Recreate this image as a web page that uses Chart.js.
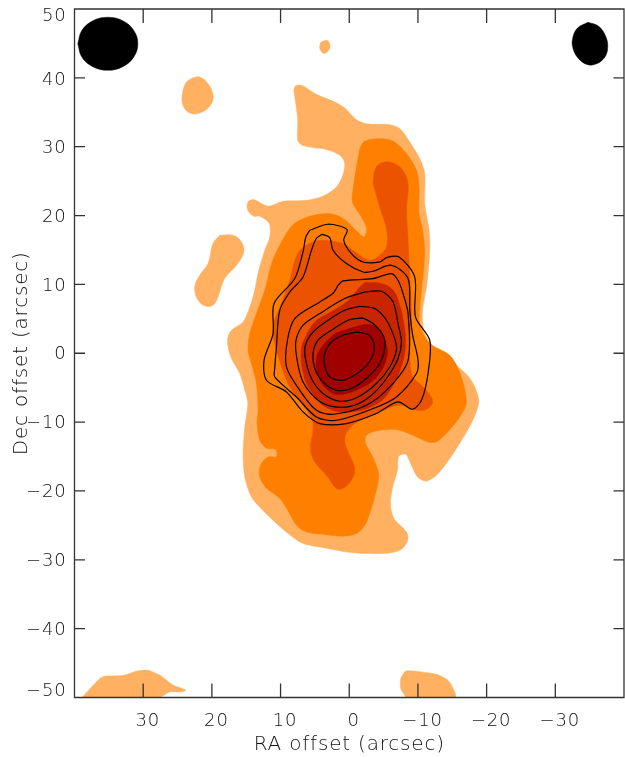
<!DOCTYPE html>
<html>
<head>
<meta charset="utf-8">
<style>html,body{margin:0;padding:0;background:#fff}canvas{display:block}</style>
<script src="https://cdn.jsdelivr.net/npm/chart.js@4"></script>
</head>
<body>
<canvas id="c" width="625" height="757"></canvas>
<script>
// All shapes are [RA offset, Dec offset] in arcsec.
const level1 = [[8.08,38.19],[7.79,38.87],[6.81,38.87],[4.78,37.6],[2.11,36.49],[0.66,35.62],[-1.05,33.93],[-2.5,33.35],[-5.9,33.2],[-7.35,32.63],[-8.81,30.68],[-10.26,28.27],[-10.99,26.09],[-10.99,21.78],[-11.62,17.86],[-11.72,14.96],[-11.32,10.17],[-10.65,5.81],[-10.99,2.9],[-12.69,0.44],[-14.63,-1.02],[-17.54,-3.63],[-18.85,-6.83],[-17.98,-9.73],[-16.08,-13.07],[-14.15,-15.98],[-12.69,-17.72],[-11.24,-18.55],[-9.97,-18.01],[-9.05,-16.27],[-8.22,-14.67],[-7.2,-14.96],[-7.02,-16.99],[-6.33,-19.42],[-6.0,-21.79],[-6.48,-23.97],[-8.33,-25.96],[-8.52,-27.16],[-7.6,-28.47],[-5.9,-29.01],[-2.5,-29.09],[0.41,-28.86],[3.32,-28.32],[6.77,-27.6],[8.95,-26.14],[10.84,-24.5],[12.59,-22.8],[14.24,-20.87],[15.21,-17.97],[15.46,-14.52],[15.21,-10.7],[14.77,-7.26],[15.21,-5.37],[15.94,-2.95],[17.25,-0.54],[17.73,1.89],[17.15,3.34],[15.46,4.55],[14.48,6.72],[13.76,9.15],[13.28,11.62],[12.3,14.96],[11.57,16.89],[11.67,18.88],[13.03,19.9],[13.9,19.9],[14.77,20.77],[14.77,21.97],[13.9,22.32],[11.82,21.35],[9.64,22.07],[6.23,22.21],[3.86,22.8],[1.86,24.15],[0.95,25.85],[0.66,27.59],[1.38,28.75],[3.32,29.58],[5.31,29.87],[6.81,30.2],[7.5,30.93],[7.5,33.83],[7.79,36.3],[8.08,38.19]];
const level1BlobA = [[22.74,40.03],[21.77,40.12],[20.56,39.16],[19.83,37.46],[20.21,36.01],[21.77,34.89],[23.22,34.89],[24.2,36.01],[24.29,37.71],[23.7,39.39],[22.74,40.03]];
const level1BlobB = [[4.15,45.16],[3.28,45.45],[2.84,44.87],[2.98,44.0],[3.71,43.56],[4.3,44.29],[4.15,45.16]];
const level1BlobC = [[18.86,17.13],[16.92,17.13],[15.7,16.16],[15.36,14.71],[16.42,12.78],[18.13,10.85],[19.58,7.22],[20.79,6.82],[22.01,7.7],[22.5,9.63],[21.77,11.33],[20.56,13.02],[19.83,15.93],[18.86,17.13]];
const level1BlobD = [[38.99,-50.1],[36.32,-47.23],[35.6,-46.9],[32.93,-46.8],[30.98,-46.17],[29.3,-46.03],[27.6,-46.75],[25.65,-48.2],[23.8,-48.93],[24.43,-49.18],[26.12,-49.18],[27.84,-50.1],[38.99,-50.1]];
const level1BlobE = [[-8.33,-50.1],[-7.5,-48.7],[-7.5,-47.25],[-8.23,-46.15],[-9.29,-46.15],[-12.7,-46.63],[-14.38,-47.5],[-15.36,-49.18],[-15.46,-50.1],[-8.33,-50.1]];
const level2 = [[-1.53,29.72],[-2.26,30.82],[-4.44,31.17],[-6.38,30.82],[-8.33,29.0],[-9.78,26.57],[-10.16,24.15],[-10.16,20.28],[-10.7,17.86],[-10.99,14.52],[-10.51,9.15],[-10.26,6.24],[-10.26,4.07],[-11.72,1.45],[-14.63,-0.29],[-16.08,-2.76],[-17.06,-7.07],[-16.08,-9.25],[-14.15,-11.62],[-12.69,-12.88],[-11.43,-12.88],[-9.24,-11.91],[-6.87,-11.08],[-3.96,-11.28],[-2.5,-11.91],[-2.36,-13.07],[-3.42,-15.06],[-4.29,-17.71],[-3.71,-20.86],[-2.98,-23.23],[-2.26,-24.97],[-1.05,-26.18],[0.95,-26.57],[3.86,-26.28],[6.23,-25.95],[7.69,-24.97],[8.95,-22.8],[10.12,-21.06],[12.05,-19.6],[13.03,-17.97],[12.93,-16.27],[11.82,-15.06],[10.6,-15.06],[10.7,-13.98],[12.05,-13.8],[13.03,-12.63],[13.42,-10.17],[13.28,-8.28],[13.51,-4.4],[14.24,-1.5],[14.73,0.44],[14.48,2.86],[13.51,5.76],[12.3,9.15],[11.14,13.5],[9.14,17.42],[7.93,18.88],[5.75,19.89],[2.84,20.28],[0.95,19.6],[-0.51,18.34],[-2.11,16.89],[-2.55,18.0],[-1.78,19.79],[-0.51,21.78],[-0.47,23.23],[-1.05,27.05],[-1.53,29.72]];
const level3 = [[-3.47,24.64],[-3.71,26.57],[-4.44,27.54],[-5.9,27.78],[-7.6,26.82],[-8.56,24.64],[-8.33,20.76],[-8.52,17.42],[-8.81,11.08],[-9.05,6.24],[-9.05,-2.9],[-11.24,-5.37],[-12.15,-7.07],[-11.24,-8.13],[-9.78,-8.28],[-7.35,-7.55],[-3.96,-8.71],[-1.53,-9.73],[0.17,-11.18],[0.66,-12.63],[0.17,-14.33],[-0.8,-16.7],[-0.32,-18.44],[0.95,-19.65],[1.86,-19.65],[3.32,-17.71],[5.02,-15.78],[5.65,-13.84],[5.27,-11.18],[5.46,-9.44],[8.66,-4.89],[9.68,-2.47],[10.85,1.45],[11.14,3.82],[9.87,7.26],[8.66,10.6],[7.5,14.52],[5.75,15.97],[3.86,16.41],[0.95,15.97],[-0.51,14.96],[-2.98,13.5],[-4.44,14.23],[-5.42,15.43],[-5.46,17.86],[-4.44,21.24],[-3.47,24.64]];
const level4 = [[-2.26,10.27],[-4.69,10.12],[-6.38,9.15],[-7.35,6.97],[-7.98,4.07],[-8.18,1.64],[-7.79,-1.26],[-6.14,-5.08],[-4.15,-7.26],[-0.32,-8.52],[3.09,-7.99],[5.5,-5.62],[6.73,-2.72],[6.96,0.68],[6.23,2.61],[5.02,4.54],[3.09,5.76],[0.66,7.22],[-0.55,8.42],[-1.53,9.63],[-2.26,10.27]];
const level5 = [[2.11,2.86],[-0.07,3.59],[-2.98,4.17],[-4.44,3.34],[-5.42,1.16],[-5.42,-0.77],[-4.19,-3.19],[-2.01,-4.89],[1.63,-6.0],[3.32,-5.13],[4.54,-3.19],[4.78,-0.77],[3.82,1.16],[2.11,2.86]];
const contour1 = [[-1.05,3.09],[-2.74,2.72],[-3.61,1.41],[-3.32,-0.54],[-1.78,-2.47],[0.9,-3.92],[2.84,-3.44],[3.57,-1.74],[3.57,-0.04],[2.59,1.64],[0.9,2.61],[-1.05,3.09]];
const contour2 = [[-2.01,5.13],[-3.47,4.31],[-4.92,2.61],[-5.17,0.91],[-4.44,-1.5],[-2.74,-3.44],[-0.32,-5.13],[1.86,-5.37],[3.82,-4.17],[5.02,-2.22],[5.27,-0.04],[4.54,1.89],[2.59,3.34],[0.17,4.79],[-2.01,5.13]];
const contour3 = [[-1.53,6.82],[-3.71,6.49],[-5.42,4.79],[-6.62,2.13],[-6.87,0.44],[-5.9,-1.99],[-3.96,-4.4],[-1.28,-6.35],[1.38,-6.97],[3.82,-5.85],[5.5,-3.67],[6.38,-0.77],[6.38,1.16],[5.27,3.09],[3.09,4.79],[0.66,6.24],[-1.53,6.82]];
const contour4 = [[-2.26,8.9],[-4.69,9.0],[-6.38,7.45],[-7.1,4.31],[-7.6,1.64],[-7.1,-0.77],[-5.42,-3.67],[-3.23,-6.1],[-0.8,-7.55],[2.11,-7.8],[4.54,-6.83],[6.73,-4.17],[7.54,-1.26],[7.79,1.64],[6.73,4.07],[4.29,5.76],[0.66,7.94],[-2.26,8.9]];
const contour5 = [[1.63,9.88],[0.9,10.5],[-3.47,10.85],[-6.14,11.57],[-7.1,10.6],[-7.83,8.67],[-8.56,5.76],[-8.56,-1.02],[-5.9,-4.89],[-2.5,-7.55],[2.36,-8.86],[4.78,-8.28],[7.21,-5.37],[9.14,-1.99],[9.0,1.89],[7.93,5.04],[4.29,7.45],[2.36,8.71],[1.63,9.88]];
const contour6 = [[3.96,17.28],[2.84,16.8],[2.36,14.96],[0.41,13.02],[-2.01,11.8],[-3.47,11.91],[-6.14,12.78],[-8.56,10.85],[-8.81,6.24],[-9.24,2.61],[-10.02,-1.02],[-9.78,-2.95],[-6.87,-6.35],[-3.47,-8.03],[1.86,-9.73],[4.78,-9.25],[7.69,-6.35],[10.85,-3.44],[10.85,-2.22],[10.6,0.91],[10.12,6.24],[8.66,8.9],[6.73,11.08],[5.5,14.96],[4.78,16.7],[3.96,17.28]];
const contour7 = [[5.75,17.86],[3.09,18.74],[0.32,17.96],[0.8,16.41],[-0.32,14.48],[-2.01,13.26],[-4.44,13.26],[-5.42,13.9],[-7.25,13.98],[-9.53,11.08],[-9.64,5.27],[-11.72,1.89],[-11.47,-2.95],[-10.51,-6.82],[-9.2,-8.13],[-7.1,-7.07],[-3.96,-8.76],[0.41,-10.21],[4.29,-10.21],[6.73,-8.52],[9.14,-5.62],[12.05,-3.92],[12.4,-1.02],[11.09,2.86],[10.95,7.22],[7.93,10.85],[6.73,14.71],[6.33,16.89],[5.75,17.86]];
const beamLeft = [[39.52,44.95],[38.93,46.87],[37.33,48.28],[35.15,48.8],[32.97,48.28],[31.37,46.87],[30.78,44.95],[31.37,43.03],[32.97,41.62],[35.15,41.1],[37.33,41.62],[38.93,43.03],[39.52,44.95]];
const beamRight = [[-34.76,48.08],[-36.3,47.5],[-37.3,46.1],[-37.63,44.5],[-37.2,43.0],[-35.9,42.0],[-34.6,41.95],[-33.3,42.9],[-32.6,44.2],[-32.5,45.6],[-33.2,47.2],[-34.76,48.08]];

const xTickValues = [-30,-20,-10,0,10,20,30];
const yTickValues = [-50,-40,-30,-20,-10,0,10,20,30,40,50];
const xTitle = 'RA offset (arcsec)';
const yTitle = 'Dec offset (arcsec)';
const colors = {l1:'#FFB060', l2:'#FF8000', l3:'#EC5300', l4:'#C82400', l5:'#A00000', ink:'#000000', axis:'#333333', text:'#111111'};

const pts = a => a.map(p => ({x:p[0], y:p[1]}));
const filled = (a, c, order, tension) => ({data:pts(a), showLine:true, fill:'shape', backgroundColor:c, borderColor:c, borderWidth:0.5, pointRadius:0, tension, order});
const line = (a, order) => ({data:pts(a), showLine:true, fill:false, borderColor:colors.ink, borderWidth:1.2, pointRadius:0, tension:0.3, order});

const datasets = [
  line(contour1,1), line(contour2,1), line(contour3,1), line(contour4,1), line(contour5,1), line(contour6,1), line(contour7,1),
  filled(level5, colors.l5, 2, 0.4),
  filled(level4, colors.l4, 3, 0.4),
  filled(level3, colors.l3, 4, 0.35),
  filled(level2, colors.l2, 5, 0.3),
  filled(level1, colors.l1, 6, 0.3),
  filled(level1BlobA, colors.l1, 6, 0.4),
  filled(level1BlobB, colors.l1, 6, 0.4),
  filled(level1BlobC, colors.l1, 6, 0.4),
  filled(level1BlobD, colors.l1, 6, 0.2),
  filled(level1BlobE, colors.l1, 6, 0.2),
  filled(beamLeft, colors.ink, 6, 0.4),
  filled(beamRight, colors.ink, 6, 0.4)
];

const minus = v => v < 0 ? '\u2212' + Math.abs(v) : String(v);
const frame = {
  id:'frame',
  beforeDraw(chart){
    chart.ctx.letterSpacing = '0.8px';
    const y = chart.scales.y;
    y.getLabelItems(chart.chartArea).forEach((it,i) => {
      if (it._moved) return; it._moved = true;
      const v = y.ticks[i].value;
      it.options.translation[1] += v === 50 ? 7 : v === -50 ? -6 : v === 40 ? 2.3 : 1.5;
    });
  },
  afterDraw(chart){
    const {ctx, chartArea:a, scales:{x,y}} = chart;
    ctx.save();
    ctx.strokeStyle = colors.axis; ctx.lineWidth = 1.3;
    ctx.beginPath();
    ctx.rect(a.left, a.top, a.right-a.left, a.bottom-a.top);
    xTickValues.forEach(v => { const p = x.getPixelForValue(v);
      ctx.moveTo(p,a.bottom); ctx.lineTo(p,a.bottom-14);
      ctx.moveTo(p,a.top); ctx.lineTo(p,a.top+14); });
    yTickValues.filter(v => Math.abs(v) < 50).forEach(v => { const p = y.getPixelForValue(v);
      ctx.moveTo(a.left,p); ctx.lineTo(a.left+10.5,p);
      ctx.moveTo(a.right,p); ctx.lineTo(a.right-10.5,p); });
    ctx.stroke();
    ctx.restore();
  }
};
const family = '"DejaVu Sans ExtraLight","DejaVu Sans"';
const font = {family, size:18, weight:'200'};
const titleFont = {family, size:20, weight:'200'};
const noPad = s => { s.paddingTop = 0; s.paddingBottom = 0; s.paddingLeft = 0; s.paddingRight = 0; };

new Chart(document.getElementById('c'), {
  type:'scatter',
  data:{datasets},
  plugins:[frame],
  options:{
    responsive:false, animation:false,
    devicePixelRatio:1,
    layout:{padding:{top:9,right:1,left:0,bottom:0}},
    plugins:{legend:{display:false}, tooltip:{enabled:false}},
    scales:{
      x:{type:'linear', reverse:true, min:-40, max:40,
        afterFit(s){s.height = 59.5; noPad(s);},
        grid:{display:false, drawTicks:false}, border:{display:false},
        ticks:{stepSize:10, autoSkip:false, maxRotation:0, padding:13, labelOffset:4.5, color:colors.text, font,
          callback:v => xTickValues.includes(v) ? minus(v) : ''},
        title:{display:true, text:xTitle, color:colors.text, font:titleFont, padding:{top:0,bottom:0}}},
      y:{type:'linear', min:-50, max:50,
        afterFit(s){s.width = 74.5; noPad(s);},
        grid:{display:false, drawTicks:false}, border:{display:false},
        ticks:{stepSize:10, autoSkip:false, padding:8, color:colors.text, font,
          callback:v => yTickValues.includes(v) ? minus(v) : ''},
        title:{display:true, text:yTitle, color:colors.text, font:titleFont, padding:{top:10,bottom:0}}}
    }
  }
});
</script>
</body>
</html>
